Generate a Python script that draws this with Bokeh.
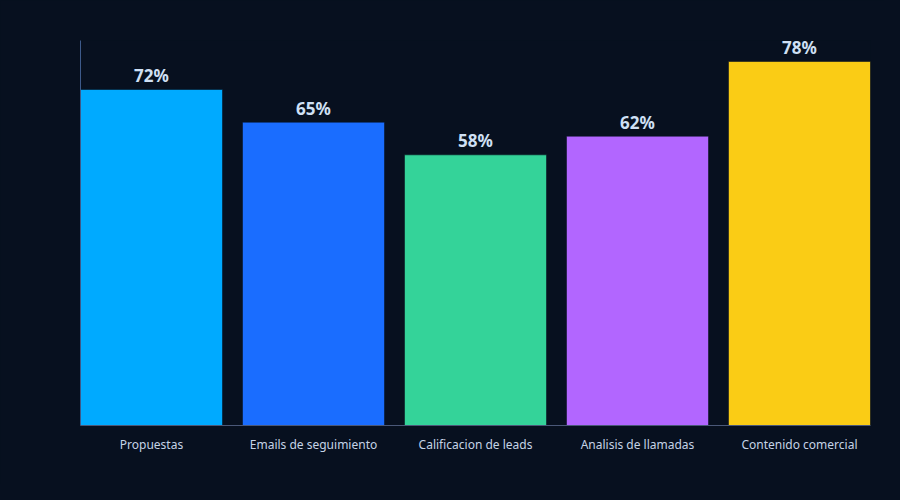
from bokeh.plotting import figure
from bokeh.models import ColumnDataSource, Range1d, FixedTicker
from bokeh.embed import file_html
from bokeh.resources import INLINE
from bokeh.core.properties import value

categories = ["Propuestas", "Emails de seguimiento", "Calificacion de leads",
              "Analisis de llamadas", "Contenido comercial"]
values = [72, 65, 58, 62, 78]
colors = ["#00aaff", "#1a6dff", "#34d399", "#b266ff", "#facc15"]
labels = ["72%", "65%", "58%", "62%", "78%"]

BG = "#07101f"
xs = list(range(len(categories)))
w = 142 / 162

src = ColumnDataSource(dict(x=xs, top=values, color=colors, label=labels))

p = figure(width=884, height=484, output_backend="svg", toolbar_location=None,
           x_range=Range1d(-w / 2, len(categories) - 1 + w / 2),
           y_range=Range1d(0, 82.5),
           min_border_left=80, min_border_right=14, min_border_top=40,
           min_border_bottom=59)
p.background_fill_color = BG
p.border_fill_color = BG
p.outline_line_color = None
p.grid.visible = False

p.vbar(x="x", top="top", width=w, bottom=0, source=src, fill_color="color",
       line_color=BG, line_alpha=0.55, line_width=1)

p.text(x="x", y="top", text="label", source=src, text_align="center",
       text_baseline="alphabetic", y_offset=-14, text_color="#cfe0f5",
       text_font=value("Noto Sans"), text_font_style="bold",
       text_font_size="17px")

ax = p.xaxis[0]
ax.ticker = FixedTicker(ticks=xs)
ax.major_label_overrides = {i: c for i, c in enumerate(categories)}
ax.major_tick_line_color = None
ax.minor_tick_line_color = None
ax.axis_line_color = "#4a5878"
ax.major_label_text_color = "#c5d3e6"
ax.major_label_text_font = "Noto Sans"
ax.major_label_text_font_size = "12px"
ax.major_label_standoff = 4

ay = p.yaxis[0]
ay.ticker = FixedTicker(ticks=[])
ay.major_tick_line_color = None
ay.minor_tick_line_color = None
ay.axis_line_color = "#3d5a8a"

html = file_html(p, INLINE)
html = html.replace("<head>", "<head><style>html,body{background:#07101f;}</style>", 1)
open("out.html", "w").write(html)
